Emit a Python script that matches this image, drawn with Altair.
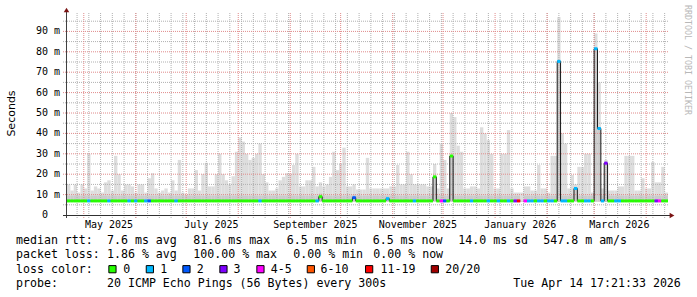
import altair as alt
import pandas as pd
from datetime import date, timedelta

# ---------------- data ----------------
START = date(2025, 4, 21)
END = date(2026, 4, 14)
BIN_DAYS = 2
N_DAYS = (END - START).days

LOSS_LABELS = ["0", "1", "2", "3", "4-5", "6-10", "11-19", "20/20"]
LOSS_COLORS = ["#26ff00", "#00b8ff", "#0059ff", "#7e00ff", "#ff00ff", "#ff5500", "#ff0000", "#a00000"]

SMOKE_FLOOR = 6.5  # ms, min rtt

# top of the ping "smoke" per 2-day bin (ms)
smoke_max = [
    15, 12, 15, 11, 15, 13, 30, 12, 14, 13,
    11, 16, 17, 12, 29, 20, 12, 15, 15, 14,
    11, 15, 15, 11, 18, 20.5, 13, 11, 12, 13,
    11, 17, 12, 27, 11, 10, 13, 13, 22, 12,
    20, 25.6, 14, 14, 20, 30, 20, 17, 15, 19,
    31, 38, 36, 30, 27, 28, 30, 35, 20, 16,
    12, 12, 13, 17, 18.7, 20.5, 20, 24.5, 30, 14,
    14, 17, 17, 23.6, 14, 16, 14, 15, 18.7, 31,
    22, 25, 33, 14, 14, 15, 12.5, 12.5, 12.5, 28,
    13, 13, 13, 13, 13, 13, 14, 14, 24.5, 15,
    15, 31, 20, 15, 15, 15, 15, 14, 14, 25,
    13, 35, 27, 13, 50, 48, 34, 31, 13, 13,
    14, 14, 13, 43, 40, 36.7, 30, 13, 13, 30,
    30, 41.6, 13, 11, 11, 11, 14, 14, 12, 12,
    24.5, 13, 13, 11, 29, 29, 97, 40, 35, 13,
    19.6, 15, 23.6, 23.6, 30, 30, 11, 89, 65, 13,
    27, 12, 12, 12, 14, 14, 29, 29, 29, 12,
    12, 18, 13, 13, 26, 16, 16, 23.6, 11,
]

# denser smoke near the median (ms)
smoke_mid = [
    9.5, 9.5, 9.5, 9.5, 9.5, 9.5, 9.5, 9.5, 9.5, 9.5,
    9.5, 9.5, 9.5, 9.5, 9.5, 9.5, 9.5, 9.5, 9.5, 9.5,
    9.5, 9.5, 9.5, 9.5, 9.5, 9.5, 9.5, 9.5, 9.5, 9.5,
    9.5, 9.5, 9.5, 9.5, 9.5, 9.5, 9.5, 9.5, 9.5, 9.5,
    9.5, 9.5, 9.5, 9.5, 9.5, 9.5, 9.5, 9.5, 9.5, 9.5,
    9.5, 9.5, 9.5, 9.5, 9.5, 9.5, 9.5, 9.5, 9.5, 9.5,
    9.5, 9.5, 9.5, 9.5, 9.5, 9.5, 9.5, 9.5, 9.5, 9.5,
    9.5, 9.5, 9.5, 9.5, 9.5, 10.5, 9.5, 9.5, 9.5, 9.5,
    9.5, 9.5, 9.5, 9.5, 9.5, 10.0, 9.5, 9.5, 9.5, 9.5,
    9.5, 9.5, 9.5, 9.5, 9.5, 9.5, 9.5, 9.5, 9.5, 9.5,
    9.5, 9.5, 9.5, 9.5, 9.5, 9.5, 9.5, 9.5, 9.5, 18.7,
    9.5, 9.5, 9.5, 9.5, 28.9, 9.5, 9.5, 9.5, 9.5, 9.5,
    9.5, 9.5, 9.5, 9.5, 9.5, 9.5, 9.5, 9.5, 9.5, 9.5,
    9.5, 9.5, 9.5, 9.5, 9.5, 6.9, 9.5, 9.5, 9.5, 9.5,
    9.5, 9.5, 9.5, 9.5, 9.5, 9.5, 75.3, 9.5, 9.5, 9.5,
    9.5, 13.0, 9.5, 9.5, 9.5, 9.5, 9.5, 81.5, 42.4, 9.5,
    25.4, 9.5, 9.5, 9.5, 9.5, 9.5, 9.5, 9.5, 9.5, 9.5,
    9.5, 9.5, 9.5, 9.5, 9.5, 9.5, 9.5, 9.5, 9.5,
]

# median rtt per bin (ms); None = no data
median = [
    6.9, 6.9, 6.9, 6.9, 6.9, 6.9, 6.9, 6.9, 6.9, 6.9,
    6.9, 6.9, 6.9, 6.9, 6.9, 6.9, 6.9, 6.9, 6.9, 6.9,
    6.9, 6.9, 6.9, 6.9, 6.9, 6.9, 6.9, 6.9, 6.9, 6.9,
    6.9, 6.9, 6.9, 6.9, 6.9, 6.9, 6.9, 6.9, 6.9, 6.9,
    6.9, 6.9, 6.9, 6.9, 6.9, 6.9, 6.9, 6.9, 6.9, 6.9,
    6.9, 6.9, 6.9, 6.9, 6.9, 6.9, 6.9, 6.9, 6.9, 6.9,
    6.9, 6.9, 6.9, 6.9, 6.9, 6.9, 6.9, 6.9, 6.9, 6.9,
    6.9, 6.9, 6.9, 6.9, 6.9, 9.0, 6.9, 6.9, 6.9, 6.9,
    6.9, 6.9, 6.9, 6.9, 6.9, 8.5, 6.9, 6.9, 6.9, 6.9,
    6.9, 6.9, 6.9, 6.9, 6.9, 8.0, 6.9, 6.9, 6.9, 6.9,
    6.9, 6.9, 6.9, 6.9, 6.9, 6.9, 6.9, 6.9, 6.9, 18.7,
    6.9, 6.9, 6.9, 6.9, 28.9, 6.9, 6.9, 6.9, 6.9, 6.9,
    6.9, 6.9, 6.9, 6.9, 6.9, 6.9, 6.9, 6.9, 6.9, 6.9,
    6.9, 6.9, 6.9, 6.9, 6.9, None, 6.9, 6.9, 6.9, 6.9,
    6.9, 6.9, 6.9, 6.9, 6.9, 6.9, 75.3, 6.9, 6.9, 6.9,
    6.9, 13.0, 6.9, 6.9, 6.9, 6.9, 6.9, 81.5, 42.4, 6.9,
    25.4, 6.9, 6.9, 6.9, 6.9, 6.9, 6.9, 6.9, 6.9, 6.9,
    6.9, 6.9, 6.9, 6.9, 6.9, 6.9, 6.9, 6.9, 6.9,
]

# packet-loss class per bin (index into LOSS_LABELS)
loss = [
    0, 0, 0, 0, 0, 0, 1, 0, 0, 0,
    0, 0, 1, 0, 0, 0, 0, 0, 1, 0,
    1, 0, 0, 1, 2, 0, 0, 0, 0, 0,
    0, 0, 1, 0, 0, 0, 0, 0, 0, 0,
    0, 0, 0, 0, 0, 0, 0, 0, 0, 0,
    0, 0, 0, 0, 0, 0, 0, 1, 0, 0,
    0, 0, 0, 0, 0, 0, 0, 0, 0, 0,
    0, 0, 0, 0, 1, 0, 0, 0, 0, 0,
    0, 0, 0, 0, 0, 2, 0, 0, 0, 0,
    0, 0, 0, 0, 0, 1, 0, 0, 0, 0,
    0, 0, 0, 1, 0, 0, 0, 0, 0, 0,
    0, 4, 2, 0, 0, 0, 0, 0, 0, 0,
    1, 0, 0, 0, 0, 1, 0, 0, 1, 0,
    0, 1, 0, 3, 6, 0, 4, 1, 1, 0,
    1, 1, 0, 1, 1, 0, 1, 1, 1, 0,
    0, 1, 0, 0, 1, 1, 0, 1, 1, 1,
    3, 0, 0, 1, 1, 0, 0, 0, 0, 0,
    0, 0, 0, 0, 0, 3, 4, 0, 0,
]

Y_TICKS = [10, 20, 30, 40, 50, 60, 70, 80, 90]
Y_ZERO = [0]
X_LABEL_DATES = [date(2025, 5, 16), date(2025, 7, 16), date(2025, 9, 16),
                 date(2025, 11, 16), date(2026, 1, 16), date(2026, 3, 16)]
X_LABELS = ["May 2025", "July 2025", "September 2025", "November 2025",
            "January 2026", "March 2026"]

LEGEND_ROW1 = ["median rtt:", "7.6 ms avg", "81.6 ms max", "6.5 ms min",
               "6.5 ms now", "14.0 ms sd", "547.8 m am/s"]
LEGEND_ROW2 = ["packet loss:", "1.86 % avg", "100.00 % max", "0.00 % min", "0.00 % now"]
LEGEND_ROW3_TITLE = "loss color:"
LEGEND_ROW4 = ["probe:", "20 ICMP Echo Pings (56 Bytes) every 300s", "Tue Apr 14 17:21:33 2026"]

# ---------------- layout (absolute pixels) ----------------
OX, OY = 67, 11          # plot origin
W, H = 601, 204
ROW1_X = [16, 107, 193.3, 286.7, 372.7, 458.3, 543.3]
ROW2_X = [16, 107, 193.3, 293.3, 373.3]
ROW4_X = [16, 107, 513.3]
BOX_X = [108.3, 145.7, 182.3, 219.3, 256.3, 306.7, 365, 430.7]
BOX_LABEL_X = [123.3, 160.3, 196.8, 233.5, 270.7, 320.5, 380.5, 445.3]
ROW_BASE = [244.3, 258.4, 272.5, 286.6]

MONO = "DejaVu Sans Mono"

# ---------------- tables ----------------
def day(d):
    return (d - START).days

n = len(smoke_max)
bins = pd.DataFrame({
    "d0": [i * BIN_DAYS for i in range(n)],
    "d1": [(i + 1) * BIN_DAYS for i in range(n)],
    "lo": [SMOKE_FLOOR] * n,
    "smax": smoke_max,
    "smid": smoke_mid,
    "med": median,
    "loss": [LOSS_LABELS[k] for k in loss],
})
valid = bins.dropna(subset=["med"])

line_rows = []
seg, o = 0, 0
for i in range(n):
    if median[i] is None:
        seg += 1
        continue
    line_rows.append({"d": i * BIN_DAYS, "m": median[i], "seg": seg, "o": o}); o += 1
    line_rows.append({"d": (i + 1) * BIN_DAYS, "m": median[i], "seg": seg, "o": o}); o += 1
med_line = pd.DataFrame(line_rows)

sundays, months = [], []
d = START
while d <= END:
    if d.weekday() == 6:
        sundays.append(day(d))
    if d.day == 1:
        months.append(day(d))
    d += timedelta(days=1)

XS = alt.Scale(domain=[0, N_DAYS], nice=False, zero=False)
YS = alt.Scale(domain=[0, 100], nice=False)
dummy = alt.Data(values=[{"a": 1}])

layers = []

# smoke
layers.append(alt.Chart(bins).mark_rect(color="#dddddd").encode(
    x=alt.X("d0:Q", scale=XS, axis=None), x2="d1:Q",
    y=alt.Y("lo:Q", scale=YS, axis=None), y2="smax:Q"))
layers.append(alt.Chart(bins).mark_rect(color="#cbcbcb").encode(
    x=alt.X("d0:Q", scale=XS, axis=None), x2="d1:Q",
    y=alt.Y("lo:Q", scale=YS, axis=None), y2="smid:Q"))

# grid
layers.append(alt.Chart(pd.DataFrame({"d": sundays})).mark_rule(
    color="#b0b0b0", strokeDash=[1, 1], strokeWidth=1).encode(
    x=alt.X("d:Q", scale=XS, axis=None), y=alt.value(2), y2=alt.value(H + 3)))
layers.append(alt.Chart(pd.DataFrame({"v": [5, 15, 25, 35, 45, 55, 65, 75, 85, 95]})).mark_rule(
    color="#b0b0b0", strokeDash=[1, 1], strokeWidth=1).encode(
    y=alt.Y("v:Q", scale=YS, axis=None), x=alt.value(-4), x2=alt.value(W)))
layers.append(alt.Chart(pd.DataFrame({"d": months})).mark_rule(
    color="#e08a8a", strokeDash=[1, 1], strokeWidth=1).encode(
    x=alt.X("d:Q", scale=XS, axis=None), y=alt.value(2), y2=alt.value(H + 3)))
layers.append(alt.Chart(pd.DataFrame({"v": Y_TICKS})).mark_rule(
    color="#e08a8a", strokeDash=[1, 1], strokeWidth=1).encode(
    y=alt.Y("v:Q", scale=YS, axis=None), x=alt.value(-4), x2=alt.value(W)))

# median line + loss colours
layers.append(alt.Chart(med_line).mark_line(color="#1a1a1a", strokeWidth=1).encode(
    x=alt.X("d:Q", scale=XS, axis=None), y=alt.Y("m:Q", scale=YS, axis=None),
    detail="seg:N", order="o:Q"))
layers.append(alt.Chart(valid).mark_rule(strokeWidth=3).encode(
    x=alt.X("d0:Q", scale=XS, axis=None), x2="d1:Q",
    y=alt.Y("med:Q", scale=YS, axis=None),
    color=alt.Color("loss:N", scale=alt.Scale(domain=LOSS_LABELS, range=LOSS_COLORS), legend=None)))

# axes
layers.append(alt.Chart(dummy).mark_rule(color="#404040").encode(
    x=alt.value(-0.5), y=alt.value(-1), y2=alt.value(H + 3)))
layers.append(alt.Chart(dummy).mark_rule(color="#303030").encode(
    y=alt.value(H + 0.5), x=alt.value(-4), x2=alt.value(W + 2)))
layers.append(alt.Chart(dummy).mark_point(shape="triangle-up", filled=True, size=30, opacity=1,
                                          color="#7a1414").encode(
    x=alt.value(-0.5), y=alt.value(-1)))
layers.append(alt.Chart(dummy).mark_point(shape="triangle-right", filled=True, size=30, opacity=1,
                                          color="#7a1414").encode(
    x=alt.value(W + 4), y=alt.value(H + 0.5)))

# axis labels
ylab = pd.DataFrame({"v": Y_TICKS, "lab": [f"{v} m" for v in Y_TICKS]})
layers.append(alt.Chart(ylab).mark_text(font=MONO, fontSize=10, align="right",
                                        baseline="middle", color="#000000").encode(
    x=alt.value(60 - OX), y=alt.Y("v:Q", scale=YS, axis=None), text="lab:N"))
ylab0 = pd.DataFrame({"v": Y_ZERO, "lab": ["0"]})
layers.append(alt.Chart(ylab0).mark_text(font=MONO, fontSize=10, align="right",
                                         baseline="middle", color="#000000").encode(
    x=alt.value(48 - OX), y=alt.Y("v:Q", scale=YS, axis=None), text="lab:N"))
xlab = pd.DataFrame({"d": [day(x) for x in X_LABEL_DATES], "lab": X_LABELS})
layers.append(alt.Chart(xlab).mark_text(font=MONO, fontSize=10, align="center",
                                        baseline="alphabetic", color="#000000").encode(
    x=alt.X("d:Q", scale=XS, axis=None), y=alt.value(228 - OY), text="lab:N"))

def text_layer(txt, x, y, **kw):
    props = dict(font=MONO, fontSize=11.6, align="left", baseline="alphabetic", color="#000000")
    props.update(kw)
    return alt.Chart(dummy).mark_text(text=txt, **props).encode(
        x=alt.value(x - OX), y=alt.value(y - OY))

layers.append(text_layer("Seconds", 15.3, 113.5, font="DejaVu Sans", fontSize=11,
                         angle=270, align="center"))
layers.append(text_layer("RRDTOOL / TOBI OETIKER", 685, 5, fontSize=8.3, angle=90,
                         color="#b8b8b8"))

for t, x in zip(LEGEND_ROW1, ROW1_X):
    layers.append(text_layer(t, x, ROW_BASE[0]))
for t, x in zip(LEGEND_ROW2, ROW2_X):
    layers.append(text_layer(t, x, ROW_BASE[1]))
layers.append(text_layer(LEGEND_ROW3_TITLE, 16, ROW_BASE[2]))
for lab, col, bx, tx in zip(LOSS_LABELS, LOSS_COLORS, BOX_X, BOX_LABEL_X):
    layers.append(alt.Chart(dummy).mark_square(size=52, filled=True, opacity=1, stroke="#000000",
                                               strokeWidth=1, fill=col).encode(
        x=alt.value(bx + 4.15 - OX), y=alt.value(269.2 - OY)))
    layers.append(text_layer(lab, tx, ROW_BASE[2]))
for t, x in zip(LEGEND_ROW4, ROW4_X):
    layers.append(text_layer(t, x, ROW_BASE[3]))

chart = alt.layer(*layers).properties(
    width=W, height=H,
    autosize=alt.AutoSizeParams(type="none"),
    padding={"left": OX, "top": OY, "right": 697 - OX - W, "bottom": 297 - OY - H},
    background="#ffffff",
).configure_view(stroke=None)

chart.save("out.html", embed_options={"renderer": "svg", "actions": False})
